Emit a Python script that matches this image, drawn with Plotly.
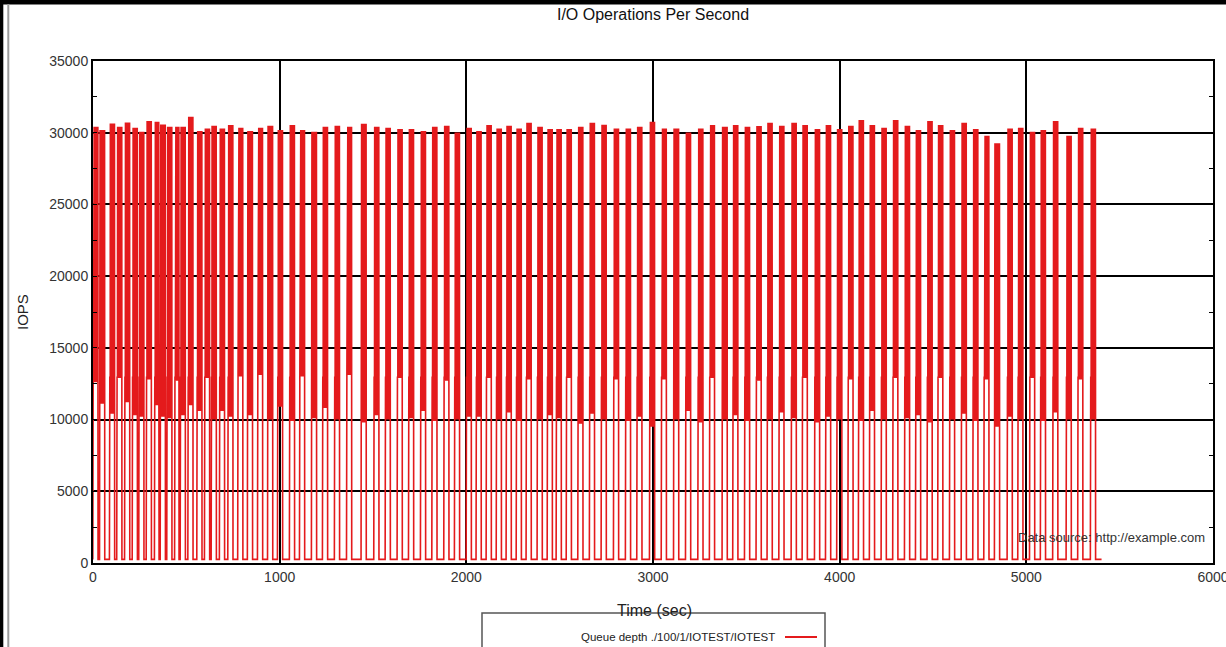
import plotly.graph_objects as go

# ---- data (seconds / IOPS) ----
cycle_start = [2, 38, 91, 130, 172, 213, 248, 288, 332, 363, 398, 440, 470, 511, 559, 600, 636, 680, 725, 778,
               830, 884, 938, 991, 1055, 1109, 1173, 1232, 1296, 1361, 1439, 1507, 1568, 1632, 1693, 1757, 1818,
               1882, 1939, 2002, 2055, 2109, 2163, 2216, 2270, 2323, 2382, 2436, 2484, 2538, 2600, 2662, 2725,
               2791, 2855, 2916, 2984, 3047, 3113, 3177, 3243, 3305, 3373, 3430, 3493, 3555, 3614, 3677, 3743,
               3802, 3868, 3927, 3987, 4047, 4103, 4162, 4225, 4287, 4350, 4409, 4471, 4528, 4591, 4654, 4716,
               4775, 4832, 4900, 4957, 5020, 5078, 5144, 5216, 5278, 5346]
cycle_peak = [30420, 30190, 30650, 30420, 30720, 30350, 30070, 30810, 30770, 30580, 30420, 30420, 30420, 31110,
              30120, 30300, 30490, 30300, 30530, 30350,
              30120, 30350, 30490, 30190, 30530, 30190, 30070, 30420, 30490, 30420,
              30630, 30420, 30350, 30260, 30260, 30120, 30420, 30490, 30020, 30350, 30120, 30530, 30300, 30490,
              30300, 30700, 30420, 30260, 30260, 30260, 30420, 30700, 30550,
              30300, 30300, 30420, 30770, 30300, 30300, 30020, 30300, 30530, 30420, 30530, 30420, 30470, 30700,
              30490, 30700, 30530, 30260, 30530, 30260, 30490,
              30880, 30530, 30350, 30880, 30490, 30190, 30810, 30530, 30190, 30700, 30260, 29790, 29260, 30300,
              30350, 30070, 30190, 30810, 29790, 30350, 30300]
cycle_trough = [12600, 11100, 10400, 12900, 11200, 10300, 10200, 12800, 11000, 10200, 10100, 12700, 10300,
                11000, 10600, 12900, 10000, 10600, 10200, 13000,
                10300, 13100, 10000, 10900, 9900, 13000, 10100, 10800, 10000, 13100, 9800, 10300, 10000, 12900,
                10100, 10600, 9900, 12700, 10000, 10200, 10200, 12900, 10000, 10500, 9900, 12800, 10000, 10300,
                10100, 12900, 9700, 10400, 10000, 12800, 9900, 10200, 9500, 12800, 10000, 10600, 9800, 12900,
                10000, 10300, 9900, 12700, 10000, 10500, 10100, 12900, 9800, 10200, 10000, 12800, 9900, 10600,
                10000, 12900, 10100, 10300, 9800, 12900, 10000, 10400, 9900, 12800, 9500, 10200, 10000, 12900,
                9900, 10500, 10000, 12800, 10000]
first_sample = 13000     # first (partial) second of each burst
busy_seconds = 24
idle_level = 250
run_end = 5403

# ---- build the series: busy bursts alternate between peak and trough each second ----
t, v = [0], [idle_level]
for i, s in enumerate(cycle_start):
    t.append(s - 3); v.append(idle_level)
    t.append(s - 1); v.append(first_sample)
    nxt = cycle_start[i + 1] if i + 1 < len(cycle_start) else run_end
    dur = min(busy_seconds, nxt - s - 10)
    for k in range(dur + 1):
        t.append(s + k)
        v.append(cycle_peak[i] if k % 2 == 0 else cycle_trough[i])
    t.append(s + dur + 1); v.append(idle_level)
t.append(run_end); v.append(idle_level)

RED = "#e41a1c"
fig = go.Figure()
fig.add_trace(go.Scatter(x=t, y=v, mode="lines", line=dict(color=RED, width=1.6),
                         name="Queue depth ./100/1/IOTEST/IOTEST", showlegend=False))

FONT = "Liberation Sans, Arial, sans-serif"
L, R, T, B = 93, 13, 61, 84
W, H = 1226, 647
PW, PH = W - L - R, H - T - B

def px(xp):
    return (xp - L) / PW

def py(yp):
    return (H - B - yp) / PH

fig.update_layout(
    width=W, height=H, margin=dict(l=L, r=R, t=T, b=B, autoexpand=False),
    paper_bgcolor="white", plot_bgcolor="white",
    font=dict(family=FONT, size=14, color="#333333"),
    title=dict(text="I/O Operations Per Second", x=0.5, xref="paper", xanchor="center",
               y=1 - 14 / H, yref="container", yanchor="middle",
               font=dict(family=FONT, size=16, color="#111111")),
    xaxis=dict(range=[0, 6000], dtick=1000, tickformat="d", showgrid=True, gridcolor="black", gridwidth=2,
               showline=True, linecolor="black", linewidth=2, mirror=True, automargin=False,
               ticks="", zeroline=False, ticklabeloverflow="allow",
               tickfont=dict(family=FONT, size=14, color="#333333")),
    yaxis=dict(range=[0, 35000], dtick=5000, tickformat="d", showgrid=True, gridcolor="black", gridwidth=2,
               showline=True, linecolor="black", linewidth=2, mirror="allticks", automargin=False,
               ticks="inside", ticklen=4, tickcolor="black", zeroline=False,
               minor=dict(dtick=2500, ticks="inside", ticklen=4, tickcolor="black", showgrid=False),
               tickfont=dict(family=FONT, size=14, color="#333333")),
    showlegend=False,
)

fig.add_annotation(text="Time (sec)", x=px(654), y=py(610), xref="paper", yref="paper",
                   showarrow=False, xanchor="center", yanchor="middle",
                   font=dict(family=FONT, size=16, color="#222222"))
fig.add_annotation(text="IOPS", x=px(22), y=py(312), xref="paper", yref="paper", textangle=-90,
                   showarrow=False, xanchor="center", yanchor="middle",
                   font=dict(family=FONT, size=15, color="#222222"))
fig.add_annotation(text="Data source: http://example.com", x=px(1207), y=py(537), xref="paper", yref="paper",
                   showarrow=False, xanchor="right", yanchor="middle",
                   font=dict(family=FONT, size=13, color="#333333"))
# legend (text on the left, line sample on the right, as in the source)
fig.add_shape(type="rect", xref="paper", yref="paper", x0=px(482), x1=px(825), y0=py(660), y1=py(613),
              line=dict(color="#555555", width=1.5), fillcolor="rgba(0,0,0,0)", layer="above")
fig.add_annotation(text="Queue depth ./100/1/IOTEST/IOTEST", x=px(777), y=py(637), xref="paper", yref="paper",
                   showarrow=False, xanchor="right", yanchor="middle",
                   font=dict(family=FONT, size=11.5, color="#222222"))
fig.add_shape(type="line", xref="paper", yref="paper", x0=px(785), x1=px(817), y0=py(637), y1=py(637),
              line=dict(color=RED, width=2))
# dark frame edges visible in the screenshot
fig.add_shape(type="rect", xref="paper", yref="paper", x0=px(0), x1=px(W), y0=py(4.5), y1=py(0),
              line=dict(width=0), fillcolor="black", layer="above")
fig.add_shape(type="rect", xref="paper", yref="paper", x0=px(0), x1=px(3.3), y0=py(H), y1=py(0),
              line=dict(width=0), fillcolor="black", layer="above")
fig.add_shape(type="line", xref="paper", yref="paper", x0=px(8.3), x1=px(8.3), y0=py(H), y1=py(4),
              line=dict(color="#999999", width=2), layer="above")

fig.write_html("out.html", config={"displayModeBar": False},
               post_script="document.body.style.margin='0px';document.body.style.overflow='hidden';")
